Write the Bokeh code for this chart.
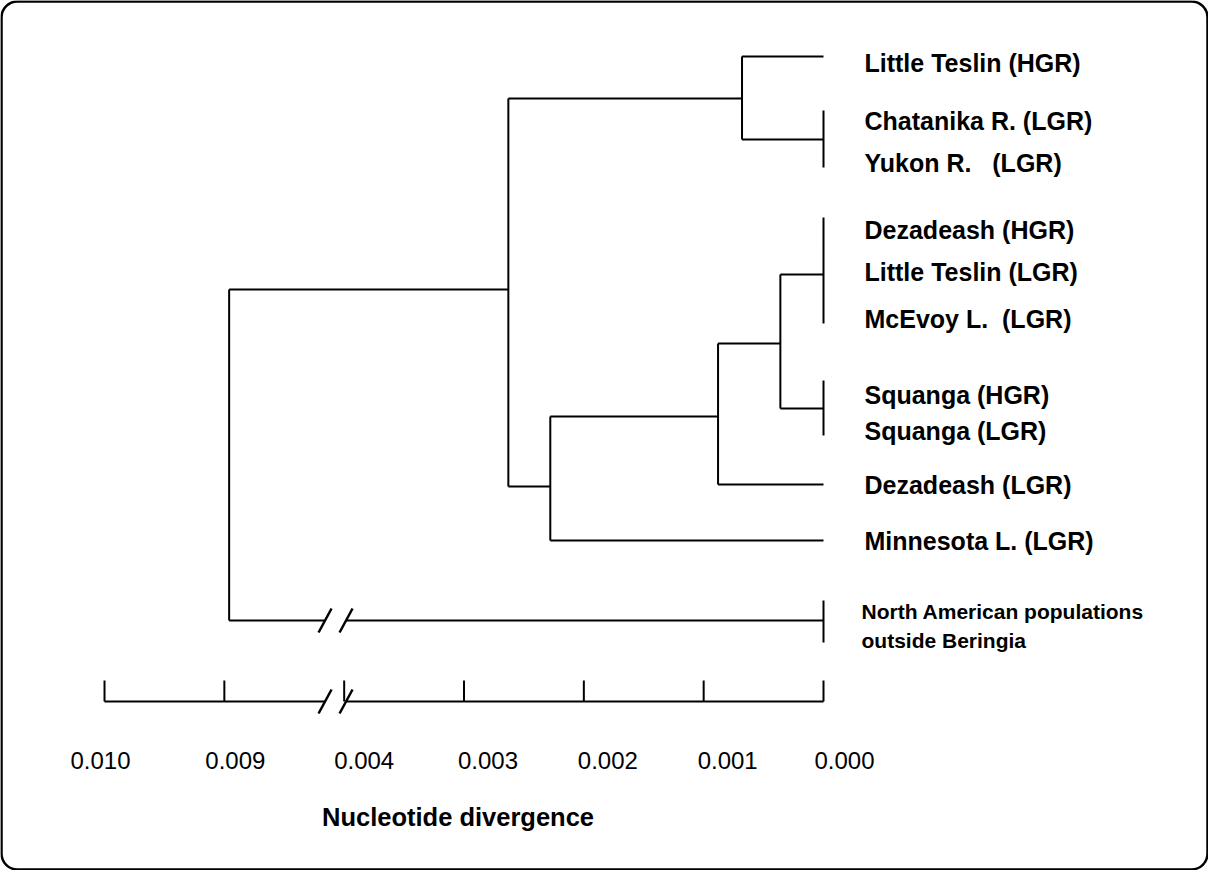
from bokeh.plotting import figure
from bokeh.models import Range1d, BoxAnnotation
from bokeh.core.properties import value
from bokeh.embed import file_html
from bokeh.resources import INLINE

# ---------------- data ----------------
node_names = ["root", "A", "B", "C", "D", "E",
              "LT_HGR", "CY", "DLM", "SQ", "DZ_LGR", "MN", "OUT"]
node_parent = [None, "root", "A", "A", "C", "D",
               "B", "B", "E", "E", "D", "C", "root"]
node_div = [0.00896, 0.00263, 0.00068, 0.00228, 0.00088, 0.00036,
            0.0, 0.0, 0.0, 0.0, 0.0, 0.0, 0.0]
node_row = [None, 297, 106, 494, 424, 351, 64, 147, 282, 416, 492, 548, 628]
broken_branches = ["OUT"]  # branch drawn with a scale break

tipbar_nodes = ["CY", "DLM", "SQ", "OUT"]
tipbar_top = [118, 225, 388, 608]
tipbar_bot = [175, 331, 443, 650]

leaf_labels = ["Little Teslin (HGR)", "Chatanika R. (LGR)", "Yukon R.\u00a0\u00a0 (LGR)",
               "Dezadeash (HGR)", "Little Teslin (LGR)", "McEvoy L.\u00a0 (LGR)",
               "Squanga (HGR)", "Squanga (LGR)", "Dezadeash (LGR)", "Minnesota L.\u00a0(LGR)"]
leaf_rows = [70, 128, 170, 237, 279, 326, 402, 438, 492, 548]
outgroup_labels = ["North American populations", "outside Beringia"]
outgroup_rows = [619, 648]

tick_values = [0.010, 0.009, 0.004, 0.003, 0.002, 0.001, 0.000]
tick_labels = ["0.010", "0.009", "0.004", "0.003", "0.002", "0.001", "0.000"]
axis_title = "Nucleotide divergence"

# ---------------- broken scale ----------------
GAP = 0.004          # 0.004..0.009 collapsed into one unit
BREAK_AT = 0.004072  # display position of the break marks
PX = 119830.0        # pixels per unit divergence


def pos(d):
    return d if d <= 0.0045 else d - GAP


HALF_GAP = 10.5 / PX
SL_DX = 6.5 / PX
SL_DY = 12

x0s, y0s, x1s, y1s = [], [], [], []
sx0, sy0, sx1, sy1 = [], [], [], []


def hline(a, b, y, broken=False):
    lo, hi = min(a, b), max(a, b)
    if broken and lo < BREAK_AT < hi:
        x0s.extend([hi, BREAK_AT - HALF_GAP]); x1s.extend([BREAK_AT + HALF_GAP, lo])
        y0s.extend([y, y]); y1s.extend([y, y])
        for c in (BREAK_AT + HALF_GAP, BREAK_AT - HALF_GAP):
            sx0.append(c + SL_DX); sy0.append(y + SL_DY)
            sx1.append(c - SL_DX); sy1.append(y - SL_DY)
    else:
        x0s.append(a); x1s.append(b); y0s.append(y); y1s.append(y)


def vline(x, ya, yb):
    x0s.append(x); x1s.append(x); y0s.append(ya); y1s.append(yb)


idx = {n: i for i, n in enumerate(node_names)}
for i, n in enumerate(node_names):
    par = node_parent[i]
    if par is not None:
        hline(pos(node_div[idx[par]]), pos(node_div[i]), node_row[i],
              broken=n in broken_branches)
    kids = [node_row[j] for j, q in enumerate(node_parent) if q == n]
    if kids:
        vline(pos(node_div[i]), min(kids), max(kids))
for n, t, b in zip(tipbar_nodes, tipbar_top, tipbar_bot):
    vline(pos(node_div[idx[n]]), t, b)

# axis with break
AXIS_Y = 709
TICK_LEN = 21
hline(pos(tick_values[0]), pos(tick_values[-1]), AXIS_Y, broken=True)
for t in tick_values:
    vline(pos(t), AXIS_Y, AXIS_Y - TICK_LEN)

# ---------------- figure ----------------
W, H = 1208, 870
ZERO_PX = 831 - 8
p = figure(width=W, height=H,
           x_range=Range1d(ZERO_PX / PX, -(W - ZERO_PX) / PX),
           y_range=Range1d(H + 8, 8),
           toolbar_location=None, output_backend="svg",
           x_axis_location=None, y_axis_location=None, min_border=0)
p.grid.visible = False
p.outline_line_color = None
p.background_fill_color = "white"
p.border_fill_color = "white"

p.segment(x0=x0s, y0=y0s, x1=x1s, y1=y1s, line_color="black", line_width=2)
p.segment(x0=sx0, y0=sy0, x1=sx1, y1=sy1, line_color="black", line_width=2.5)

FONT = value("Liberation Sans")
p.text(x=[pos(0.0)] * len(leaf_labels), y=leaf_rows, text=leaf_labels,
       x_offset=41, text_baseline="middle", text_align="left",
       text_font=FONT, text_font_style="bold", text_font_size="25px", text_color="black")
p.text(x=[pos(0.0)] * len(outgroup_labels), y=outgroup_rows, text=outgroup_labels,
       x_offset=38, text_baseline="middle", text_align="left",
       text_font=FONT, text_font_style="bold", text_font_size="21px", text_color="black")

label_nudge = [-4, 11, 20, 24, 24, 24, 21]
p.text(x=[pos(t) for t in tick_values], y=[768] * len(tick_values), text=tick_labels,
       x_offset=label_nudge, text_baseline="middle", text_align="center",
       text_font=FONT, text_font_size="24px", text_color="black")
p.text(x=[pos(0.003)], y=[824], text=[axis_title], x_offset=-6,
       text_baseline="middle", text_align="center",
       text_font=FONT, text_font_style="bold", text_font_size="25.5px", text_color="black")

border = BoxAnnotation(left=(831 - 9) / PX, right=(831 - 1215) / PX, top=9, bottom=877,
                       fill_color=None, fill_alpha=0, line_color="black", line_alpha=1,
                       line_width=2.5, border_radius=16)
p.add_layout(border)

open("out.html", "w").write(file_html(p, INLINE))
